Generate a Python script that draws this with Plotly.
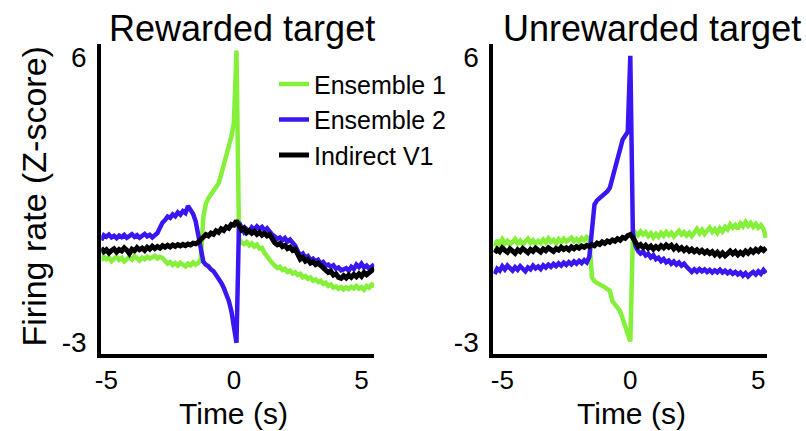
import numpy as np
import plotly.graph_objects as go

# ---------------- data ----------------
# sample times (s)
t_rew = np.round(np.arange(-5.2, 5.5001, 0.1), 1)     # rewarded-target panel
t_unrew = np.round(np.arange(-5.3, 5.3001, 0.1), 1)   # unrewarded-target panel

series_names = ["Ensemble 1", "Ensemble 2", "Indirect V1"]

# Rewarded target (Z-score)
e1_rew = [-0.42, -0.30, -0.38, -0.33, -0.44, -0.36, -0.29, -0.40, -0.34, -0.45,
          -0.37, -0.31, -0.39, -0.28, -0.35, -0.42, -0.33, -0.38, -0.30, -0.36,
          -0.32, -0.27, -0.35, -0.30, -0.34, -0.45, -0.52, -0.47, -0.56, -0.50,
          -0.58, -0.49, -0.55, -0.61, -0.52, -0.57, -0.48, -0.55, -0.50, -0.38,
          0.95, 1.38, 1.55, 1.68, 1.80, 1.90, 2.02, 2.30, 2.58, 2.86,
          3.18, 3.50, 3.95, 6.22, 0.28, 0.14, 0.10, 0.16, 0.06, 0.12,
          0.02, 0.08, -0.04, -0.02, -0.18, -0.30, -0.42, -0.50, -0.58, -0.66,
          -0.62, -0.72, -0.68, -0.78, -0.74, -0.83, -0.79, -0.88, -0.84, -0.95,
          -0.91, -1.00, -0.96, -1.06, -1.02, -1.10, -1.06, -1.16, -1.12, -1.22,
          -1.18, -1.28, -1.24, -1.31, -1.26, -1.33, -1.27, -1.32, -1.25, -1.30,
          -1.23, -1.31, -1.26, -1.34, -1.22, -1.28, -1.18, -1.24]
e2_rew = [0.22, 0.38, 0.33, 0.40, 0.31, 0.36, 0.29, 0.37, 0.32, 0.39,
          0.30, 0.35, 0.41, 0.33, 0.38, 0.30, 0.36, 0.42, 0.34, 0.39,
          0.31, 0.37, 0.45, 0.62, 0.78, 0.86, 0.97, 0.93, 1.04, 0.98,
          1.10, 1.03, 1.14, 1.08, 1.30, 1.18, 1.05, 0.82, 0.35, -0.18,
          -0.46, -0.55, -0.60, -0.70, -0.76, -0.88, -0.98, -1.12, -1.28, -1.47,
          -1.70, -2.02, -2.50, -3.02, 0.78, 0.62, 0.48, 0.57, 0.50, 0.63,
          0.55, 0.66, 0.58, 0.64, 0.52, 0.60, 0.47, 0.40, 0.34, 0.27,
          0.31, 0.22, 0.29, 0.18, 0.24, 0.15, 0.05, -0.12, -0.26, -0.20,
          -0.33, -0.28, -0.41, -0.36, -0.45, -0.40, -0.52, -0.47, -0.58, -0.55,
          -0.62, -0.57, -0.68, -0.64, -0.73, -0.70, -0.66, -0.74, -0.62, -0.69,
          -0.55, -0.63, -0.52, -0.64, -0.58, -0.68, -0.60, -0.54]
v1_rew = [-0.02, -0.14, -0.08, -0.18, -0.10, -0.05, -0.15, -0.07, -0.12, -0.02,
          -0.09, -0.20, -0.06, -0.11, -0.01, -0.08, -0.03, -0.10, 0.00, -0.06,
          0.03, -0.04, 0.02, -0.03, 0.05, 0.00, 0.06, 0.01, 0.07, 0.03,
          0.08, 0.04, 0.09, 0.05, 0.10, 0.07, 0.13, 0.11, 0.16, 0.24,
          0.33, 0.40, 0.36, 0.45, 0.41, 0.52, 0.47, 0.58, 0.53, 0.64,
          0.60, 0.72, 0.70, 0.84, 0.68, 0.55, 0.61, 0.46, 0.52, 0.44,
          0.50, 0.41, 0.47, 0.38, 0.44, 0.36, 0.40, 0.26, 0.14, 0.08,
          0.12, 0.02, 0.06, -0.04, 0.00, -0.10, -0.06, -0.22, -0.38, -0.32,
          -0.44, -0.39, -0.50, -0.46, -0.55, -0.50, -0.58, -0.68, -0.74, -0.80,
          -0.76, -0.88, -0.84, -0.95, -0.98, -0.90, -0.97, -0.88, -0.95, -0.86,
          -0.93, -0.84, -0.92, -0.80, -0.87, -0.78, -0.74, -0.66]

# Unrewarded target (Z-score)
e1_unrew = [0.02, 0.22, 0.10, 0.25, 0.12, 0.20, 0.08, 0.18, 0.26, 0.12,
            0.21, 0.09, 0.19, 0.27, 0.14, 0.22, 0.10, 0.20, 0.13, 0.24,
            0.15, 0.28, 0.17, 0.23, 0.12, 0.25, 0.16, 0.27, 0.18, 0.24,
            0.30, 0.19, 0.26, 0.17, 0.29, 0.22, 0.32, 0.26, -0.95, -1.08,
            -1.14, -1.18, -1.22, -1.26, -1.32, -1.38, -1.70, -1.82, -1.92, -2.02,
            -2.25, -2.48, -2.78, -2.98, 0.36, 0.46, 0.38, 0.50, 0.40, 0.47,
            0.35, 0.44, 0.31, 0.42, 0.33, 0.45, 0.36, 0.48, 0.38, 0.46,
            0.34, 0.43, 0.52, 0.40, 0.48, 0.37, 0.46, 0.35, 0.50, 0.58,
            0.44, 0.55, 0.42, 0.53, 0.62, 0.48, 0.57, 0.45, 0.60, 0.50,
            0.64, 0.56, 0.72, 0.62, 0.70, 0.58, 0.75, 0.66, 0.80, 0.68,
            0.77, 0.64, 0.74, 0.62, 0.70, 0.58, 0.30]
e2_unrew = [-0.85, -0.68, -0.74, -0.60, -0.70, -0.58, -0.66, -0.74, -0.63, -0.71,
            -0.60, -0.68, -0.76, -0.64, -0.70, -0.58, -0.67, -0.61, -0.69, -0.57,
            -0.64, -0.55, -0.62, -0.53, -0.60, -0.51, -0.58, -0.49, -0.56, -0.47,
            -0.54, -0.45, -0.52, -0.43, -0.50, -0.41, -0.48, -0.30, 0.40, 1.35,
            1.48, 1.55, 1.62, 1.70, 1.76, 1.88, 2.20, 2.55, 2.85, 3.15,
            3.40, 3.52, 3.65, 6.05, 0.45, 0.05, -0.12, -0.20, -0.14, -0.26,
            -0.21, -0.32, -0.25, -0.38, -0.33, -0.44, -0.37, -0.48, -0.42, -0.52,
            -0.45, -0.55, -0.48, -0.58, -0.52, -0.62, -0.72, -0.78, -0.70, -0.77,
            -0.69, -0.76, -0.70, -0.78, -0.72, -0.80, -0.73, -0.79, -0.71, -0.80,
            -0.74, -0.82, -0.76, -0.84, -0.78, -0.86, -0.80, -0.90, -0.82, -0.92,
            -0.84, -0.78, -0.86, -0.76, -0.84, -0.72, -0.82]
v1_unrew = [-0.18, -0.06, -0.14, -0.02, -0.10, -0.16, -0.05, -0.12, -0.19, -0.08,
            -0.14, -0.04, -0.11, -0.17, -0.07, -0.13, -0.03, -0.10, -0.15, -0.05,
            -0.11, -0.02, -0.09, -0.13, -0.04, -0.09, 0.00, -0.07, -0.02, -0.08,
            0.01, -0.05, 0.02, -0.03, 0.04, 0.00, 0.06, 0.02, 0.09, 0.05,
            0.13, 0.09, 0.17, 0.12, 0.20, 0.16, 0.23, 0.19, 0.27, 0.22,
            0.31, 0.28, 0.37, 0.40, 0.30, 0.12, 0.02, 0.08, -0.01, 0.06,
            -0.03, 0.04, -0.06, 0.02, -0.04, 0.05, -0.02, 0.07, 0.00, 0.06,
            -0.05, 0.03, -0.07, -0.01, -0.10, -0.03, -0.12, -0.06, -0.14, -0.08,
            -0.16, -0.10, -0.18, -0.12, -0.20, -0.14, -0.24, -0.16, -0.26, -0.18,
            -0.27, -0.20, -0.12, -0.21, -0.14, -0.24, -0.16, -0.22, -0.12, -0.19,
            -0.09, -0.16, -0.07, -0.13, -0.04, -0.10, -0.02]

x_ticks = [-5, 0, 5]
x_tick_text = ["-5", "0", "5"]
y_ticks = [-3, 6]
y_tick_text = ["-3", "6"]
panel_titles = ["Rewarded target", "Unrewarded target"]

# ---------------- style ----------------
FONT = "Arial, 'Liberation Sans', Helvetica, sans-serif"
colors = ["#84f03a", "#3a16f2", "#000000"]
widths = [4.5, 4.5, 5]

fig = go.Figure()
panels = [
    (t_rew, [e1_rew, e2_rew, v1_rew], "x", "y", True),
    (t_unrew, [e1_unrew, e2_unrew, v1_unrew], "x2", "y2", False),
]
for t, ys, xa, ya, show in panels:
    for name, yv, c, w in zip(series_names, ys, colors, widths):
        assert len(yv) == len(t), (name, len(yv), len(t))
        fig.add_trace(go.Scatter(x=t, y=yv, mode="lines", name=name,
                                 line=dict(color=c, width=w),
                                 xaxis=xa, yaxis=ya, showlegend=show))

W, H = 806, 431
ax_common = dict(showline=True, linewidth=4, linecolor="black", showgrid=False,
                 zeroline=False, ticks="")
xfont = dict(size=26, color="black", family=FONT)
yfont = dict(size=28, color="black", family=FONT)
ydom = [1 - 357 / H, 1 - 43 / H]
fig.update_layout(
    width=W, height=H, margin=dict(l=0, r=0, t=0, b=0),
    paper_bgcolor="white", plot_bgcolor="white",
    xaxis=dict(domain=[96 / W, 371 / W], range=[-5.2, 5.5], tickvals=x_ticks,
               ticktext=x_tick_text, anchor="y", ticklabelstandoff=0, tickfont=xfont,
               **ax_common),
    yaxis=dict(domain=ydom, range=[-3.37, 6.44], tickvals=y_ticks, ticktext=y_tick_text,
               anchor="x", ticklabelstandoff=5, tickfont=yfont, **ax_common),
    xaxis2=dict(domain=[491 / W, 767 / W], range=[-5.35, 5.35], tickvals=x_ticks,
                ticktext=x_tick_text, anchor="y2", ticklabelstandoff=0, tickfont=xfont,
                **ax_common),
    yaxis2=dict(domain=ydom, range=[-3.37, 6.44], tickvals=y_ticks, ticktext=y_tick_text,
                anchor="x2", ticklabelstandoff=5, tickfont=yfont, **ax_common),
    showlegend=True,
    legend=dict(x=270 / W, y=1 - 61 / H, xanchor="left", yanchor="top",
                font=dict(size=25, color="black", family=FONT),
                bgcolor="rgba(0,0,0,0)", borderwidth=0, itemwidth=30),
)

ann = []
for title, cx in zip(panel_titles, [238, 651]):
    ann.append(dict(text=title, x=cx / W, y=1 - 28 / H, xref="paper", yref="paper",
                    xanchor="center", yanchor="middle", showarrow=False,
                    font=dict(size=36, color="black", family=FONT)))
for cx in [229, 630]:
    ann.append(dict(text="Time (s)", x=cx / W, y=0, xref="paper", yref="paper",
                    xanchor="center", yanchor="bottom", yshift=-5, showarrow=False,
                    font=dict(size=30, color="black", family=FONT)))
ann.append(dict(text="Firing rate (Z-score)", x=28 / W, y=1 - 198 / H, xref="paper",
                yref="paper", xanchor="center", yanchor="middle", textangle=-90,
                showarrow=False, font=dict(size=34, color="black", family=FONT)))
fig.update_layout(annotations=ann)

fig.write_html("out.html")
